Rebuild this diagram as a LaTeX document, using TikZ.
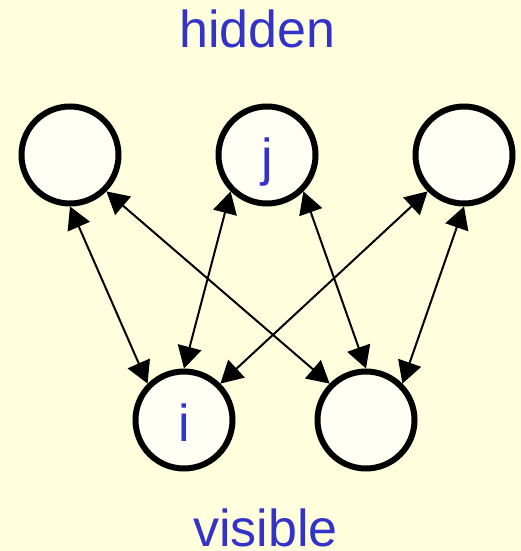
\documentclass[tikz,border=0pt]{standalone}
\usepackage{fontspec}
\setmainfont{Liberation Sans}
\usetikzlibrary{arrows.meta,positioning}

\definecolor{bgyellow}{HTML}{FFFFDD}
\definecolor{labelblue}{HTML}{3333CC}
\definecolor{unitfill}{HTML}{FFFFF6}

\begin{document}
\begin{tikzpicture}[
        x=1bp, y=-1bp,
        node distance=94bp,
        every node/.style={font=\fontsize{52bp}{60bp}\selectfont, text=labelblue},
        unit/.style={draw, circle, line width=6bp, fill=unitfill, minimum size=97bp, inner sep=0pt, text height=42bp, text depth=0pt},
        link/.style={{Triangle[length=22bp,width=24bp]}-{Triangle[length=22bp,width=24bp]}, line width=2bp}
    ]

  \path[use as bounding box, fill=bgyellow] (0,0) rectangle (521,551);

  % Hidden units
  \node[unit] (h1) at (70,155) {};
  \node[unit] (h2) [right=of h1] {j};
  \node[unit] (h3) [right=of h2] {};

  % Visible units
  \node[unit] (v1) at (184,420) {i};
  \node[unit] (v2) [right=79bp of v1] {};

  % Layer labels
  \node[anchor=base] (hiddenlabel) at (257.5,48) {hidden};
  \node[anchor=base] (visiblelabel) at (265.5,546) {visible};

  \draw[link] (h1.south) -- (v1.north west);
  \draw[link] (h1.south east) -- (v2.north west);
  \draw[link] (h2.south west) -- (v1.north);
  \draw[link] (h2.south east) -- (v2.north);
  \draw[link] (h3.south west) -- (v1.north east);
  \draw[link] (h3.south) -- (v2.north east);
\end{tikzpicture}
\end{document}
